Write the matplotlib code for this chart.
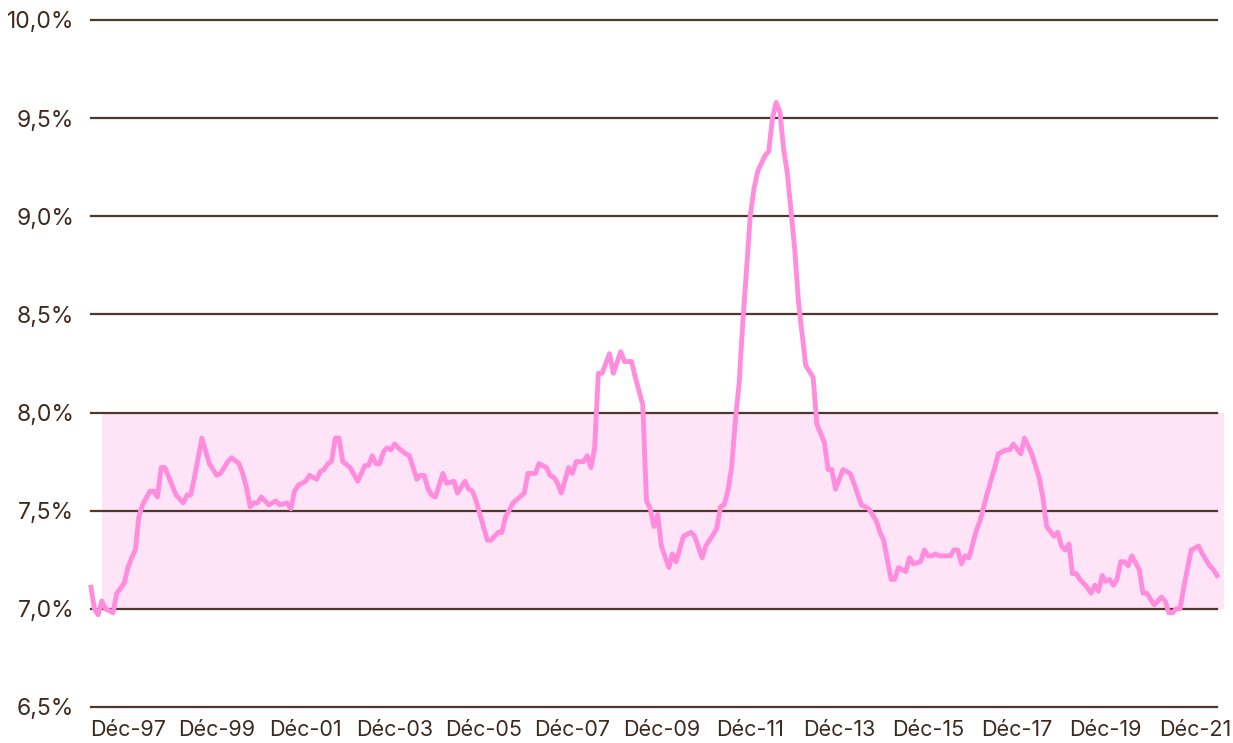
import matplotlib
matplotlib.use("Agg")
import matplotlib.pyplot as plt
import pandas as pd

# monthly readings (YYYY-MM) and rate in %
dates = [
    "1997-02", "1997-03", "1997-04", "1997-05", "1997-06", "1997-08", "1997-09", "1997-11",
    "1997-12", "1998-01", "1998-02", "1998-03", "1998-04", "1998-06", "1998-07", "1998-08",
    "1998-09", "1998-10", "1999-01", "1999-03", "1999-04", "1999-05", "1999-06", "1999-08",
    "1999-10", "1999-12", "2000-01", "2000-03", "2000-04", "2000-06", "2000-07", "2000-08",
    "2000-09", "2000-10", "2000-11", "2000-12", "2001-02", "2001-04", "2001-05", "2001-07",
    "2001-08", "2001-09", "2001-10", "2001-12", "2002-01", "2002-03", "2002-04", "2002-05",
    "2002-06", "2002-07", "2002-08", "2002-09", "2002-10", "2002-12", "2003-02", "2003-04",
    "2003-05", "2003-06", "2003-07", "2003-08", "2003-09", "2003-10", "2003-11", "2003-12",
    "2004-01", "2004-03", "2004-04", "2004-06", "2004-07", "2004-08", "2004-09", "2004-10",
    "2004-11", "2005-01", "2005-02", "2005-04", "2005-05", "2005-07", "2005-08", "2005-09",
    "2005-10", "2006-01", "2006-02", "2006-04", "2006-05", "2006-06", "2006-08", "2006-11",
    "2006-12", "2007-02", "2007-03", "2007-05", "2007-06", "2007-07", "2007-08", "2007-09",
    "2007-11", "2007-12", "2008-01", "2008-03", "2008-04", "2008-05", "2008-06", "2008-07",
    "2008-08", "2008-10", "2008-11", "2009-01", "2009-02", "2009-04", "2009-05", "2009-07",
    "2009-08", "2009-09", "2009-10", "2009-11", "2009-12", "2010-02", "2010-03", "2010-04",
    "2010-06", "2010-08", "2010-09", "2010-11", "2010-12", "2011-02", "2011-03", "2011-04",
    "2011-05", "2011-06", "2011-07", "2011-08", "2011-09", "2011-10", "2011-11", "2011-12",
    "2012-01", "2012-02", "2012-04", "2012-05", "2012-06", "2012-07", "2012-08", "2012-09",
    "2012-10", "2012-12", "2013-01", "2013-03", "2013-05", "2013-06", "2013-08", "2013-09",
    "2013-10", "2013-11", "2014-01", "2014-03", "2014-04", "2014-06", "2014-08", "2014-10",
    "2014-11", "2014-12", "2015-02", "2015-03", "2015-04", "2015-06", "2015-07", "2015-08",
    "2015-10", "2015-11", "2015-12", "2016-01", "2016-02", "2016-03", "2016-06", "2016-07",
    "2016-08", "2016-09", "2016-10", "2016-11", "2017-01", "2017-02", "2017-04", "2017-06",
    "2017-07", "2017-09", "2017-10", "2017-11", "2018-01", "2018-02", "2018-04", "2018-06",
    "2018-07", "2018-08", "2018-10", "2018-11", "2018-12", "2019-01", "2019-02", "2019-03",
    "2019-04", "2019-05", "2019-07", "2019-08", "2019-09", "2019-10", "2019-11", "2019-12",
    "2020-01", "2020-02", "2020-03", "2020-04", "2020-05", "2020-06", "2020-07", "2020-09",
    "2020-10", "2020-11", "2020-12", "2021-01", "2021-02", "2021-03", "2021-04", "2021-05",
    "2021-06", "2021-07", "2021-08", "2021-09", "2021-11", "2022-01", "2022-02", "2022-04",
    "2022-05", "2022-06",
]
rates = [
    7.11, 7.00, 6.97, 7.04, 7.00, 6.98, 7.08, 7.13,
    7.21, 7.26, 7.30, 7.47, 7.53, 7.60, 7.60, 7.57,
    7.72, 7.72, 7.58, 7.54, 7.58, 7.58, 7.67, 7.87,
    7.74, 7.68, 7.69, 7.75, 7.77, 7.74, 7.69, 7.62,
    7.52, 7.54, 7.54, 7.57, 7.53, 7.55, 7.53, 7.54,
    7.51, 7.60, 7.63, 7.65, 7.68, 7.66, 7.70, 7.71,
    7.74, 7.75, 7.87, 7.87, 7.75, 7.72, 7.65, 7.73,
    7.73, 7.78, 7.74, 7.74, 7.80, 7.82, 7.81, 7.84,
    7.82, 7.79, 7.78, 7.66, 7.68, 7.68, 7.61, 7.58,
    7.57, 7.69, 7.64, 7.65, 7.59, 7.65, 7.61, 7.60,
    7.55, 7.35, 7.35, 7.39, 7.39, 7.47, 7.54, 7.59,
    7.69, 7.69, 7.74, 7.72, 7.68, 7.67, 7.64, 7.59,
    7.72, 7.69, 7.75, 7.75, 7.78, 7.72, 7.82, 8.20,
    8.20, 8.30, 8.20, 8.31, 8.26, 8.26, 8.18, 8.04,
    7.55, 7.51, 7.42, 7.48, 7.32, 7.21, 7.28, 7.24,
    7.37, 7.39, 7.37, 7.26, 7.32, 7.38, 7.41, 7.52,
    7.53, 7.60, 7.72, 7.96, 8.15, 8.46, 8.73, 9.00,
    9.14, 9.23, 9.31, 9.33, 9.50, 9.58, 9.53, 9.34,
    9.22, 8.83, 8.56, 8.24, 8.18, 7.94, 7.85, 7.71,
    7.71, 7.61, 7.71, 7.69, 7.64, 7.53, 7.51, 7.45,
    7.39, 7.35, 7.15, 7.15, 7.21, 7.19, 7.26, 7.23,
    7.24, 7.30, 7.27, 7.27, 7.28, 7.27, 7.27, 7.30,
    7.30, 7.23, 7.27, 7.26, 7.40, 7.45, 7.59, 7.72,
    7.79, 7.81, 7.81, 7.84, 7.79, 7.87, 7.79, 7.67,
    7.57, 7.42, 7.37, 7.39, 7.32, 7.30, 7.33, 7.18,
    7.18, 7.15, 7.11, 7.08, 7.12, 7.09, 7.17, 7.14,
    7.15, 7.12, 7.15, 7.24, 7.24, 7.22, 7.27, 7.20,
    7.08, 7.08, 7.05, 7.02, 7.04, 7.06, 7.04, 6.98,
    6.98, 7.00, 7.00, 7.11, 7.30, 7.32, 7.28, 7.22,
    7.20, 7.17,
]

# reference band
band_start, band_end = "1997-05", "2022-08"
band_low, band_high = 7.0, 8.0

tick_years = list(range(1997, 2022, 2))
y_ticks = [6.5, 7.0, 7.5, 8.0, 8.5, 9.0, 9.5, 10.0]

TEXT = "#3d2a20"
GRID = "#4f372c"
LINE = "#ff8cdc"
BAND = "#ffe4f7"

plt.rcParams["font.family"] = ["Inter", "DejaVu Sans"]

x = pd.to_datetime(dates)

fig = plt.figure(figsize=(12.33, 7.43), dpi=100)
ax = fig.add_axes([91 / 1233, 36 / 743, 1126 / 1233, 687 / 743])

ax.fill_between(
    pd.to_datetime([band_start, band_end]),
    band_low,
    band_high,
    color=BAND,
    lw=0,
    zorder=0,
    clip_on=False,
)

for yv in y_ticks:
    ax.axhline(yv, color=GRID, lw=1.6, zorder=1, clip_on=False)

ax.plot(x, rates, color=LINE, lw=3.5, solid_joinstyle="round", zorder=3, clip_on=False)

ax.set_xlim(pd.Timestamp("1997-02-01"), pd.Timestamp("2022-06-01"))
ax.set_ylim(6.5, 10.0)

ax.set_yticks(y_ticks)
ax.set_yticklabels([f"{v:.1f}%".replace(".", ",") for v in y_ticks])
ticks = [pd.Timestamp(f"{yr}-12-01") for yr in tick_years]
ax.set_xticks(ticks)
ax.set_xticklabels([f"Déc-{str(yr)[2:]}" for yr in tick_years])

ax.tick_params(axis="y", length=0, pad=12, labelsize=16.5, labelcolor=TEXT)
ax.tick_params(axis="x", length=0, pad=9, labelsize=15.5, labelcolor=TEXT)

for spine in ax.spines.values():
    spine.set_visible(False)
ax.set_facecolor("none")

fig.savefig("out.png", dpi=100)
